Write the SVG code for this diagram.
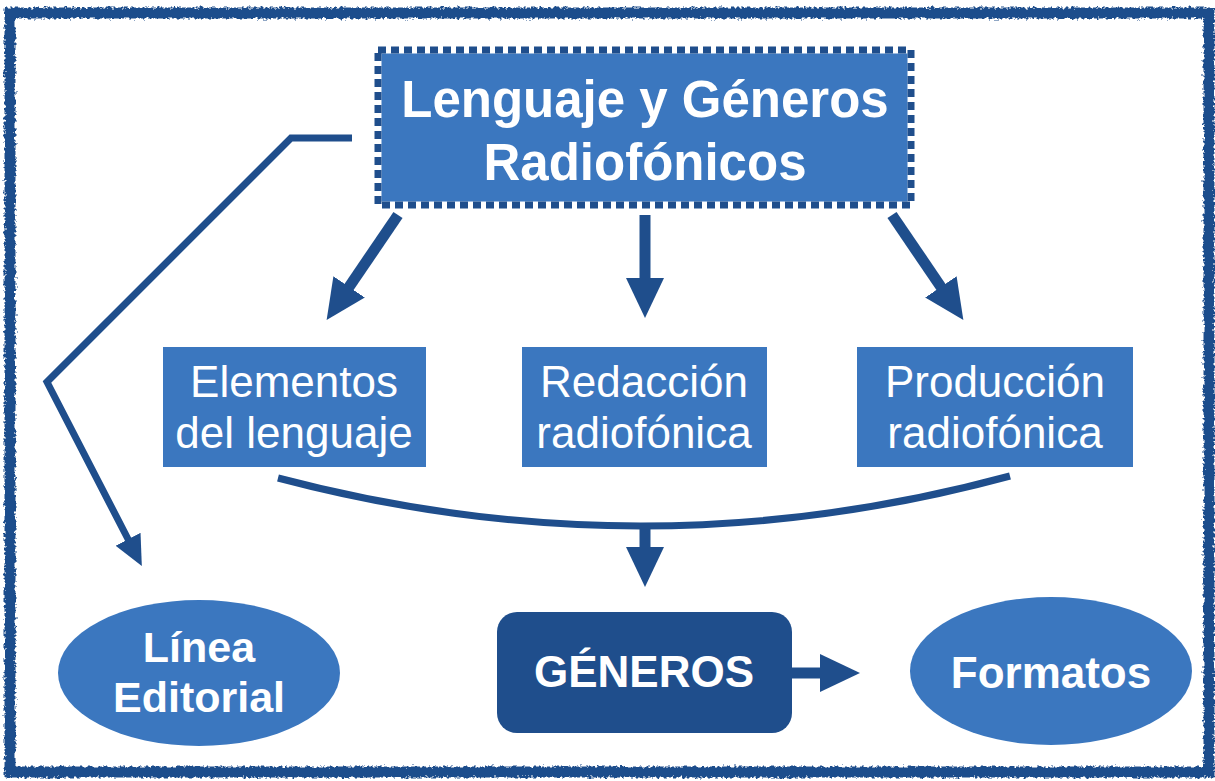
<svg xmlns="http://www.w3.org/2000/svg" width="1215" height="781" viewBox="0 0 1215 781">
  <defs>
    <style>
      .box { fill: #3b77bf; }
      .dark { fill: #1f4e8c; }
      .t { fill: #ffffff; font-family: "Liberation Sans", Arial, sans-serif; text-anchor: middle; }
      .b { font-weight: bold; }
      .conn { fill: none; stroke: #1f4e8c; stroke-linejoin: miter; }
      .thick { stroke-width: 11; }
      .thin { stroke-width: 7; }
    </style>
    <marker id="ah" markerUnits="userSpaceOnUse" markerWidth="42" markerHeight="40" refX="2" refY="19" orient="auto">
      <path d="M0,0 L40,19 L0,38 z" fill="#1f4e8c"/>
    </marker>
    <marker id="ahs" markerUnits="userSpaceOnUse" markerWidth="32" markerHeight="30" refX="2" refY="14" orient="auto">
      <path d="M0,0 L30,14 L0,28 z" fill="#1f4e8c"/>
    </marker>
    <filter id="rough" x="-2%" y="-2%" width="104%" height="104%">
      <feTurbulence type="fractalNoise" baseFrequency="0.35" numOctaves="2" seed="3" result="n"/>
      <feDisplacementMap in="SourceGraphic" in2="n" scale="6" xChannelSelector="R" yChannelSelector="G"/>
    </filter>
  </defs>

  <rect x="0" y="0" width="1215" height="781" fill="#ffffff"/>

  <g id="frame">
    <rect x="10" y="13" width="1199" height="759" fill="none" stroke="#1f4e8c" stroke-width="11" filter="url(#rough)"/>
  </g>

  <g id="connectors">
    <polyline class="conn thin" points="352,138 291,138 47,382 129,541" marker-end="url(#ahs)"/>
    <line class="conn thick" x1="398" y1="215" x2="348" y2="288.5" marker-end="url(#ah)"/>
    <line class="conn thick" x1="645" y1="215" x2="645" y2="280" marker-end="url(#ah)"/>
    <line class="conn thick" x1="892" y1="215" x2="942" y2="288.5" marker-end="url(#ah)"/>
    <path class="conn thin" d="M278,478 Q645,575 1010,476"/>
    <line class="conn thick" x1="645" y1="526" x2="645" y2="549" marker-end="url(#ah)"/>
    <line class="conn thick" x1="792" y1="673" x2="822" y2="673" marker-end="url(#ah)"/>
  </g>

  <g id="title">
    <rect x="378" y="50" width="533" height="155" class="box"/>
    <rect x="378" y="50" width="533" height="155" fill="none" stroke="#ffffff" stroke-width="7"/>
    <rect x="378" y="50" width="533" height="155" fill="none" stroke="#1f4e8c" stroke-width="7" stroke-dasharray="8 5"/>
    <text class="t b" x="645" y="117" font-size="51">Lenguaje y Géneros</text>
    <text class="t b" x="645" y="180" font-size="51">Radiofónicos</text>
  </g>

  <g id="elementos">
    <rect x="163" y="347" width="263" height="120" class="box"/>
    <text class="t" x="294" y="397" font-size="44">Elementos</text>
    <text class="t" x="294" y="448" font-size="44">del lenguaje</text>
  </g>

  <g id="redaccion">
    <rect x="522" y="347" width="245" height="120" class="box"/>
    <text class="t" x="644" y="397" font-size="44">Redacción</text>
    <text class="t" x="644" y="448" font-size="44">radiofónica</text>
  </g>

  <g id="produccion">
    <rect x="857" y="347" width="276" height="120" class="box"/>
    <text class="t" x="995" y="397" font-size="44">Producción</text>
    <text class="t" x="995" y="448" font-size="44">radiofónica</text>
  </g>

  <g id="linea">
    <ellipse cx="199" cy="673" rx="141" ry="73" class="box"/>
    <text class="t b" x="199" y="662" font-size="43">Línea</text>
    <text class="t b" x="199" y="712" font-size="43">Editorial</text>
  </g>

  <g id="generos">
    <rect x="497" y="612" width="295" height="121" rx="20" ry="20" class="dark"/>
    <text class="t b" x="644" y="687" font-size="44">GÉNEROS</text>
  </g>

  <g id="formatos">
    <ellipse cx="1051" cy="671" rx="141" ry="74" class="box"/>
    <text class="t b" x="1051" y="688" font-size="44">Formatos</text>
  </g>
</svg>
